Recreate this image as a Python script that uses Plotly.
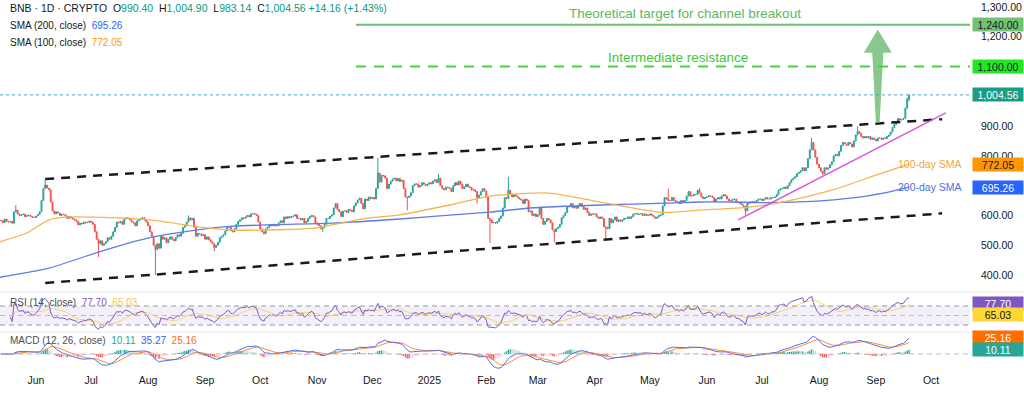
import numpy as np
import pandas as pd
import plotly.graph_objects as go
from plotly.subplots import make_subplots

# ---------------- data ----------------
MAY24 = [582, 576, 588, 580, 578, 580, 574, 612, 618, 605, 600, 602, 604, 596, 600, 601, 596, 594, 593]
JUN24 = [598, 603, 612, 650, 690, 702, 692, 686, 645, 615, 605, 612, 608, 600, 604, 603, 598, 590, 596, 592,
         588, 585, 580, 568, 574, 572, 578, 575, 577, 581]
JUL24 = [577, 570, 545, 520, 505, 515, 500, 505, 512, 525, 520, 530, 545, 560, 578, 575, 580, 570, 588, 592,
         590, 585, 578, 575, 565, 582, 585, 590, 592, 585, 578]
AUG24 = [565, 545, 530, 500, 485, 505, 490, 530, 520, 525, 508, 520, 528, 520, 515, 525, 535, 530, 540, 560,
         565, 578, 592, 585, 590, 560, 530, 540, 538, 532, 535]
SEP24 = [520, 528, 518, 512, 505, 492, 500, 510, 525, 530, 535, 548, 560, 562, 548, 545, 555, 570, 580, 585,
         592, 590, 595, 600, 595, 605, 606, 604, 600, 578]
OCT24 = [555, 545, 540, 555, 560, 570, 565, 570, 565, 565, 575, 582, 575, 595, 590, 596, 592, 597, 598, 602,
         590, 590, 585, 590, 575, 580, 590, 596, 600, 595, 575]
NOV24 = [570, 565, 555, 560, 570, 590, 590, 597, 602, 625, 640, 620, 612, 596, 615, 616, 610, 620, 617, 612,
         632, 642, 652, 658, 640, 622, 655, 650, 662, 656]
DEC24 = [660, 655, 690, 742, 712, 735, 733, 725, 690, 705, 715, 722, 725, 716, 724, 714, 718, 690, 662, 660,
         665, 676, 700, 706, 705, 695, 700, 710, 705, 700, 705]
JAN25 = [710, 706, 715, 720, 710, 725, 700, 690, 686, 695, 694, 690, 680, 700, 710, 702, 715, 705, 690, 696,
         705, 696, 694, 685, 686, 680, 660, 668, 680, 690, 682]
FEB25 = [662, 590, 585, 575, 576, 574, 580, 590, 598, 625, 660, 656, 685, 672, 662, 670, 665, 660, 655, 652,
         640, 655, 650, 612, 615, 600, 605, 596]
MAR25 = [602, 628, 590, 570, 580, 590, 585, 575, 552, 545, 556, 560, 570, 592, 600, 610, 628, 630, 640, 625,
         630, 624, 635, 640, 630, 620, 625, 610, 600, 605, 604]
APR25 = [605, 595, 590, 595, 590, 562, 560, 555, 590, 575, 585, 595, 580, 585, 580, 585, 590, 590, 595, 590,
         596, 605, 606, 604, 605, 606, 600, 605, 600, 601]
MAY25 = [605, 600, 595, 590, 595, 600, 602, 632, 660, 655, 650, 650, 660, 650, 645, 646, 640, 650, 645, 650,
         665, 680, 665, 666, 670, 670, 685, 675, 662, 656, 660]
JUN25 = [662, 666, 665, 660, 645, 655, 660, 655, 665, 670, 665, 655, 650, 650, 655, 655, 645, 645, 640, 635,
         630, 615, 640, 645, 645, 646, 645, 650, 655, 655]
JUL25 = [650, 655, 660, 655, 655, 660, 660, 662, 670, 685, 690, 690, 695, 690, 700, 710, 720, 725, 730, 740,
         745, 750, 760, 750, 760, 790, 820, 845, 820, 795, 772]
AUG25 = [760, 748, 740, 760, 755, 760, 770, 780, 800, 805, 800, 815, 835, 845, 840, 835, 845, 840, 830, 850,
         870, 882, 875, 865, 860, 865, 860, 865, 855, 860, 855]
SEP25 = [850, 860, 860, 855, 860, 858, 865, 870, 880, 895, 905, 915, 925, 920, 922, 926, 960, 990.40, 1004.56]

CLOSES = (MAY24 + JUN24 + JUL24 + AUG24 + SEP24 + OCT24 + NOV24 + DEC24 + JAN25 + FEB25 + MAR25
          + APR25 + MAY25 + JUN25 + JUL25 + AUG25 + SEP25)
DATES = pd.date_range("2024-05-13", "2025-09-19", freq="D")
FIRST_OPEN = 584

WICK_HIGH = {"2024-05-21": 635, "2024-06-06": 721, "2024-08-23": 600, "2024-12-04": 793,
             "2025-01-06": 740, "2025-02-13": 730, "2025-05-11": 690, "2025-05-28": 692,
             "2025-07-28": 860, "2025-08-22": 900, "2025-09-18": 995, "2025-09-19": 1004.90}
WICK_LOW = {"2024-07-05": 460, "2024-08-05": 400, "2024-09-06": 480, "2024-10-03": 535,
            "2024-11-04": 545, "2024-12-20": 618, "2025-01-27": 640, "2025-02-03": 507,
            "2025-03-10": 510, "2025-04-07": 520, "2025-06-22": 600, "2025-08-03": 735,
            "2025-09-19": 983.14}

SMA200_DATES = ["2024-05-12", "2024-06-08", "2024-07-05", "2024-08-03", "2024-08-27", "2024-09-16",
                "2024-10-04", "2024-11-09", "2024-12-16", "2025-01-12", "2025-02-03", "2025-02-25",
                "2025-04-04", "2025-05-10", "2025-05-28", "2025-06-15", "2025-07-03", "2025-07-31",
                "2025-08-18", "2025-09-05", "2025-09-19"]
SMA200_VALUES = [392, 423, 477, 527, 551, 564, 568, 574, 588, 601, 611, 625, 635, 641, 645, 645, 643, 648,
                 658, 675, 695.26]
SMA100_DATES = ["2024-05-12", "2024-05-27", "2024-06-08", "2024-06-17", "2024-07-02", "2024-08-02",
                "2024-08-29", "2024-09-16", "2024-10-04", "2024-11-01", "2024-11-09", "2024-11-28",
                "2024-12-16", "2025-01-12", "2025-02-03", "2025-03-07", "2025-04-04", "2025-05-08",
                "2025-05-28", "2025-06-24", "2025-07-12", "2025-08-08", "2025-09-01", "2025-09-19"]
SMA100_VALUES = [511, 541, 585, 594, 594, 585, 561, 551, 551, 558, 568, 591, 602, 635, 665, 675, 645, 610,
                 618, 628, 645, 685, 735, 772.05]

CHANNEL_DATES = ["2024-06-06", "2025-10-07"]
CHANNEL_UPPER = [722, 923]
CHANNEL_LOWER = [373, 607]
SUPPORT_DATES = ["2025-06-18", "2025-10-09"]
SUPPORT_VALUES = [585, 944]
TARGET_LEVEL = 1240
RESIST_LEVEL = 1100
ARROW_DATE = "2025-09-02"
ARROW_BASE, ARROW_NECK, ARROW_TIP = 910, 1146, 1224

RSI_LAST, RSI_MA_LAST = 77.70, 65.03
MACD_HIST_LAST, MACD_LAST, MACD_SIGNAL_LAST = 10.11, 35.27, 25.16

MONTH_TICKS = pd.date_range("2024-06-01", "2025-10-01", freq="MS")
MONTH_LABELS = ["Jun", "Jul", "Aug", "Sep", "Oct", "Nov", "Dec", "2025", "Feb", "Mar", "Apr", "May",
                "Jun", "Jul", "Aug", "Sep", "Oct"]
# price-scale labels that are not hidden behind the value tags
PRICE_TICKS = [400, 500, 600, 800, 900, 1200, 1300]

# ---------------- derived ----------------
assert len(CLOSES) == len(DATES)
opens = [FIRST_OPEN] + CLOSES[:-1]
keys = [d.strftime("%Y-%m-%d") for d in DATES]
highs = [WICK_HIGH.get(k, max(o, c)) for k, o, c in zip(keys, opens, CLOSES)]
lows = [WICK_LOW.get(k, min(o, c)) for k, o, c in zip(keys, opens, CLOSES)]

s = pd.Series(CLOSES, dtype=float)
delta = s.diff()
gain = delta.clip(lower=0).fillna(0)
loss = (-delta.clip(upper=0)).fillna(0)
ag = gain.ewm(alpha=1 / 14, adjust=False).mean()
al = loss.ewm(alpha=1 / 14, adjust=False).mean()
rsi = 100 - 100 / (1 + ag / al.replace(0, np.nan))
rsi.iloc[:5] = np.nan          # indicator warm-up
rsi_ma = rsi.rolling(14, min_periods=1).mean()
macd = s.ewm(span=12, adjust=False).mean() - s.ewm(span=26, adjust=False).mean()
signal = macd.ewm(span=9, adjust=False).mean()
hist = macd - signal
prev = hist.shift(1).fillna(0)
hcol = np.where(hist >= 0, np.where(hist >= prev, "#26a69a", "#b2dfdb"),
                np.where(hist < prev, "#ff5252", "#ffcdd2"))

# ---------------- figure ----------------
PLOT_W, PLOT_H = 970, 372
def xp(px):
    return px / PLOT_W
def yp(py):
    return (PLOT_H - py) / PLOT_H

FONT = "Liberation Sans, Arial, sans-serif"
TEXT = "#131722"
TEAL = "#089981"

fig = make_subplots(rows=3, cols=1, shared_xaxes=True, vertical_spacing=0, row_heights=[292, 40, 40])

fig.add_trace(go.Scatter(x=SMA200_DATES, y=SMA200_VALUES, mode="lines",
                         line=dict(color="#5b7ee5", width=1.3, shape="spline", smoothing=0.6)), 1, 1)
fig.add_trace(go.Scatter(x=SMA100_DATES, y=SMA100_VALUES, mode="lines",
                         line=dict(color="#f6b450", width=1.3, shape="spline", smoothing=0.6)), 1, 1)
fig.add_trace(go.Candlestick(x=DATES, open=opens, high=highs, low=lows, close=CLOSES,
                             increasing=dict(line=dict(color="#26a69a", width=1), fillcolor="#26a69a"),
                             decreasing=dict(line=dict(color="#ef5350", width=1), fillcolor="#ef5350"),
                             whiskerwidth=0), 1, 1)

# drawings
for vals in (CHANNEL_UPPER, CHANNEL_LOWER):
    fig.add_trace(go.Scatter(x=CHANNEL_DATES, y=vals, mode="lines",
                             line=dict(color="#1a1a1a", width=2.5, dash="9px,7px")), 1, 1)
fig.add_trace(go.Scatter(x=SUPPORT_DATES, y=SUPPORT_VALUES, mode="lines",
                         line=dict(color="#d95ad9", width=1.5)), 1, 1)

ad = pd.Timestamp(ARROW_DATE)
D = pd.Timedelta(days=1)
ax = [ad - 1.0 * D, ad - 3.0 * D, ad - 7.6 * D, ad, ad + 7.6 * D, ad + 3.0 * D, ad + 1.0 * D, ad - 1.0 * D]
ay = [ARROW_BASE, ARROW_NECK, ARROW_NECK, ARROW_TIP, ARROW_NECK, ARROW_NECK, ARROW_BASE, ARROW_BASE]
fig.add_trace(go.Scatter(x=ax, y=ay, mode="lines", fill="toself", fillcolor="rgba(92,178,96,0.72)",
                         line=dict(width=0)), 1, 1)

# RSI pane
fig.add_trace(go.Scatter(x=DATES, y=rsi_ma, mode="lines", line=dict(color="#f7d56a", width=1)), 2, 1)
fig.add_trace(go.Scatter(x=DATES, y=rsi, mode="lines", line=dict(color="#7e57c2", width=1)), 2, 1)

# MACD pane
fig.add_trace(go.Bar(x=DATES, y=hist, marker=dict(color=list(hcol), line=dict(width=0)),
                     width=86400000 * 0.7), 3, 1)
fig.add_trace(go.Scatter(x=DATES, y=signal, mode="lines", line=dict(color="#ff8a3d", width=1)), 3, 1)
fig.add_trace(go.Scatter(x=DATES, y=macd, mode="lines", line=dict(color="#4c6fe8", width=1)), 3, 1)

shapes = []
shapes.append(dict(type="line", xref="paper", yref="y", x0=xp(356), x1=1, y0=TARGET_LEVEL, y1=TARGET_LEVEL,
                   line=dict(color="#6cbd6f", width=2)))
shapes.append(dict(type="line", xref="paper", yref="y", x0=xp(356), x1=1, y0=RESIST_LEVEL, y1=RESIST_LEVEL,
                   line=dict(color="#3fd83f", width=2, dash="10px,8px")))
shapes.append(dict(type="line", xref="paper", yref="y", x0=0, x1=1, y0=CLOSES[-1], y1=CLOSES[-1],
                   line=dict(color="#4aa7bb", width=1, dash="dot")))
shapes.append(dict(type="rect", xref="paper", yref="y2", x0=0, x1=1, y0=30, y1=70,
                   fillcolor="rgba(126,87,194,0.09)", line=dict(width=0), layer="below"))
for lvl, c in ((70, "#9598a1"), (50, "#b8bac2"), (30, "#9598a1")):
    shapes.append(dict(type="line", xref="paper", yref="y2", x0=0, x1=1, y0=lvl, y1=lvl,
                       line=dict(color=c, width=1, dash="5px,4px")))
shapes.append(dict(type="line", xref="paper", yref="y3", x0=0, x1=1, y0=0, y1=0,
                   line=dict(color="#b8bac2", width=1, dash="5px,4px")))
for py in (292, 332):
    shapes.append(dict(type="line", xref="paper", yref="paper", x0=0, x1=1024 / PLOT_W, y0=yp(py), y1=yp(py),
                       line=dict(color="#e0e3eb", width=1)))
fig.update_layout(shapes=shapes)

ann = []
def txt(x, y, text, size=10, color=TEXT, xanchor="left", xref="paper", yref="paper", yshift=0):
    ann.append(dict(x=x, y=y, xref=xref, yref=yref, text=text, showarrow=False, xanchor=xanchor,
                    yanchor="middle", yshift=yshift, font=dict(family=FONT, size=size, color=color)))

o, h, l, c = opens[-1], highs[-1], lows[-1], CLOSES[-1]
chg = c - o
pct = chg / o * 100
sp = "\u00a0\u00a0"
def col(v, color):
    return f"<span style='color:{color}'>{v}</span>"
txt(xp(8), yp(8), f"BNB · 1D · CRYPTO{sp}O{col(f'{o:,.2f}', TEAL)}{sp}H{col(f'{h:,.2f}', TEAL)}{sp}"
                  f"L{col(f'{l:,.2f}', TEAL)}{sp}C{col(f'{c:,.2f}', TEAL)}\u00a0"
                  f"{col(f'+{chg:.2f} (+{pct:.2f}%)', TEAL)}", size=10.5)
txt(xp(8), yp(25), f"SMA (200, close){sp}{col(f'{SMA200_VALUES[-1]:.2f}', '#2962ff')}")
txt(xp(8), yp(42), f"SMA (100, close){sp}{col(f'{SMA100_VALUES[-1]:.2f}', '#ff9800')}")
txt(xp(8), yp(302), f"RSI (14, close){sp}{col(f'{RSI_LAST:.2f}', '#7e57c2')}{sp}{col(f'{RSI_MA_LAST:.2f}', '#f2c94c')}",
    color="#4a4d57")
txt(xp(8), yp(340), f"MACD (12, 26, close){sp}{col(f'{MACD_HIST_LAST:.2f}', '#26a69a')}{sp}"
                    f"{col(f'{MACD_LAST:.2f}', '#2962ff')}{sp}{col(f'{MACD_SIGNAL_LAST:.2f}', '#ff6d00')}",
    color="#4a4d57")

txt(xp(685), TARGET_LEVEL, "Theoretical target for channel breakout", size=13.5, color="#5cb660",
    xanchor="center", yref="y", yshift=11)
txt(xp(678), RESIST_LEVEL, "Intermediate resistance", size=13.5, color="#3cc83c",
    xanchor="center", yref="y", yshift=9)
txt(xp(964), SMA100_VALUES[-1], "100-day SMA", size=10.5, color="#f5a33a", xanchor="right", yref="y")
txt(xp(964), SMA200_VALUES[-1], "200-day SMA", size=10.5, color="#4a6fe3", xanchor="right", yref="y")

def tag(y, yref, text, bg, fg, yshift=0):
    ann.append(dict(x=xp(972), y=y, xref="paper", yref=yref, text=text, showarrow=False, xanchor="left",
                    yanchor="middle", yshift=yshift, bgcolor=bg, width=48, height=11, borderpad=1,
                    align="center", font=dict(family=FONT, size=10.5, color=fg)))

tag(TARGET_LEVEL, "y", f"{TARGET_LEVEL:,.2f}", "#72c274", TEXT)
tag(RESIST_LEVEL, "y", f"{RESIST_LEVEL:,.2f}", "#22e822", TEXT)
tag(CLOSES[-1], "y", f"{CLOSES[-1]:,.2f}", "#1a9b84", "white")
tag(SMA100_VALUES[-1], "y", f"{SMA100_VALUES[-1]:,.2f}", "#ff9800", TEXT)
tag(SMA200_VALUES[-1], "y", f"{SMA200_VALUES[-1]:,.2f}", "#2962ff", "white")
tag(RSI_LAST, "y2", f"{RSI_LAST:.2f}", "#7e57c2", "white", yshift=-1)
tag(RSI_MA_LAST, "y2", f"{RSI_MA_LAST:.2f}", "#fdd835", TEXT, yshift=-6)
tag(MACD_SIGNAL_LAST, "y3", f"{MACD_SIGNAL_LAST:.2f}", "#ff6d00", "white", yshift=5)
tag(MACD_HIST_LAST, "y3", f"{MACD_HIST_LAST:.2f}", "#26a69a", "white")
fig.update_layout(annotations=ann)

X_RANGE = ["2024-05-12 10:00", "2025-10-22 04:00"]
fig.update_xaxes(range=X_RANGE, showgrid=False, zeroline=False, showline=False, ticks="",
                 rangeslider=dict(visible=False))
fig.update_xaxes(tickvals=MONTH_TICKS, ticktext=MONTH_LABELS, tickfont=dict(family=FONT, size=10.5, color=TEXT),
                 row=3, col=1)
fig.update_yaxes(side="right", showgrid=False, zeroline=False, showline=False, ticks="")
fig.update_yaxes(range=[343, 1323], tickvals=PRICE_TICKS, tickformat=",.2f", ticklabelstandoff=10,
                 tickfont=dict(family=FONT, size=10.5, color=TEXT), row=1, col=1)
fig.update_yaxes(range=[15.3, 99.5], showticklabels=False, row=2, col=1)
fig.update_yaxes(range=[-39.7, 48.5], showticklabels=False, row=3, col=1)

fig.update_layout(width=1024, height=398, margin=dict(l=0, r=54, t=0, b=26), paper_bgcolor="white",
                  plot_bgcolor="white", showlegend=False, font=dict(family=FONT, color=TEXT),
                  hovermode=False, dragmode=False)

fig.write_html("out.html", config={"displayModeBar": False, "staticPlot": True},
               post_script="document.body.style.margin='0px';document.body.style.overflow='hidden';")
